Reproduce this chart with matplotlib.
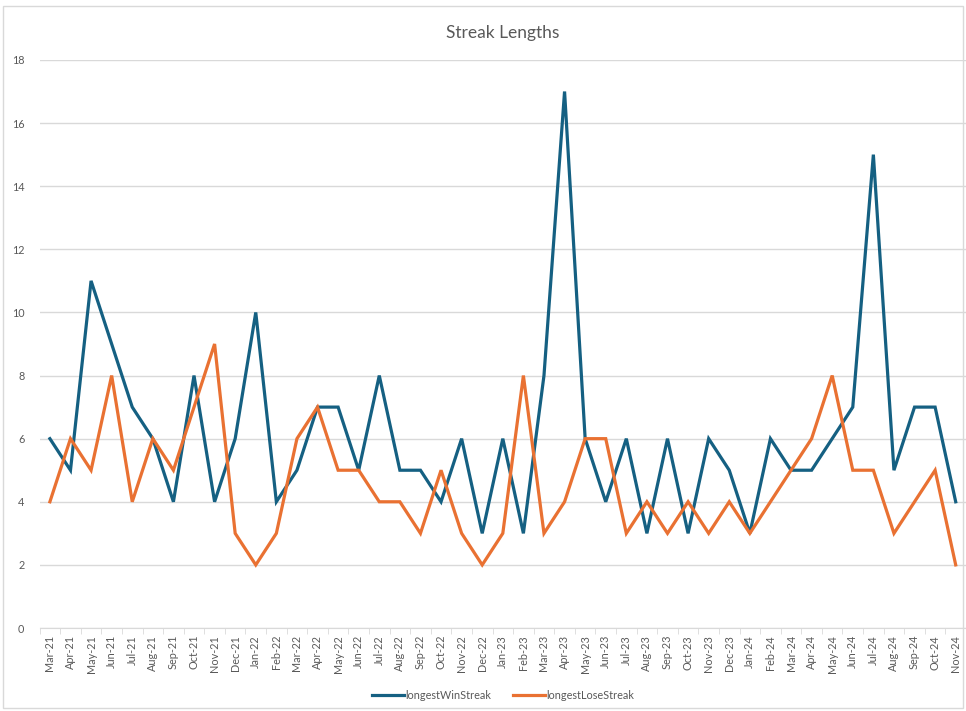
#!/usr/bin/python3

"""Streak lengths per month, win vs lose."""

import matplotlib.pyplot as plt
from matplotlib.patches import Rectangle

MONTHS = [
    'Mar-21', 'Apr-21', 'May-21', 'Jun-21', 'Jul-21', 'Aug-21', 'Sep-21', 'Oct-21',
    'Nov-21', 'Dec-21', 'Jan-22', 'Feb-22', 'Mar-22', 'Apr-22', 'May-22', 'Jun-22',
    'Jul-22', 'Aug-22', 'Sep-22', 'Oct-22', 'Nov-22', 'Dec-22', 'Jan-23', 'Feb-23',
    'Mar-23', 'Apr-23', 'May-23', 'Jun-23', 'Jul-23', 'Aug-23', 'Sep-23', 'Oct-23',
    'Nov-23', 'Dec-23', 'Jan-24', 'Feb-24', 'Mar-24', 'Apr-24', 'May-24', 'Jun-24',
    'Jul-24', 'Aug-24', 'Sep-24', 'Oct-24', 'Nov-24',
]

WIN_STREAK = [
    6, 5, 11, 9, 7, 6, 4, 8, 4, 6, 10, 4, 5, 7, 7, 5,
    8, 5, 5, 4, 6, 3, 6, 3, 8, 17, 6, 4, 6, 3, 6, 3,
    6, 5, 3, 6, 5, 5, 6, 7, 15, 5, 7, 7, 4,
]

LOSE_STREAK = [
    4, 6, 5, 8, 4, 6, 5, 7, 9, 3, 2, 3, 6, 7, 5, 5,
    4, 4, 3, 5, 3, 2, 3, 8, 3, 4, 6, 6, 3, 4, 3, 4,
    3, 4, 3, 4, 5, 6, 8, 5, 5, 3, 4, 5, 2,
]

WIN_COLOR = '#156082'
LOSE_COLOR = '#E97132'
TEXT_COLOR = '#595959'
GRID_COLOR = '#D9D9D9'


def main():
    plt.rcParams['font.family'] = ['Lato', 'DejaVu Sans']

    fig = plt.figure(figsize=(9.66, 7.11), dpi=100)
    ax = fig.add_axes([0.041, 0.1167, 0.959, 0.799])

    x = list(range(len(MONTHS)))
    ax.plot(x, WIN_STREAK, color=WIN_COLOR, linewidth=2.3, label='longestWinStreak',
            solid_joinstyle='miter', zorder=3)
    ax.plot(x, LOSE_STREAK, color=LOSE_COLOR, linewidth=2.3, label='longestLoseStreak',
            solid_joinstyle='miter', zorder=3)

    ax.set_xlim(-0.5, len(MONTHS) - 0.5)
    ax.set_ylim(0, 18)
    ax.set_yticks(range(0, 19, 2))
    ax.grid(axis='y', color=GRID_COLOR, linewidth=1)
    ax.set_axisbelow(True)

    ax.set_xticks(x)
    ax.set_xticklabels(MONTHS, rotation=90, fontsize=7.8, color=TEXT_COLOR)
    ax.set_xticks([i - 0.5 for i in range(len(MONTHS) + 1)], minor=True)
    ax.tick_params(axis='x', which='major', length=0, pad=5)
    ax.tick_params(axis='x', which='minor', length=4, color=GRID_COLOR)
    ax.tick_params(axis='y', length=0, labelsize=7.8, labelcolor=TEXT_COLOR, pad=11)

    for side in ['top', 'right', 'left']:
        ax.spines[side].set_visible(False)
    ax.spines['bottom'].set_color(GRID_COLOR)

    ax.set_title('Streak Lengths', fontsize=12.5, color=TEXT_COLOR, pad=16)

    ax.legend(loc='center', bbox_to_anchor=(0.5, -0.118), ncol=2, frameon=False,
              fontsize=7.8, labelcolor=TEXT_COLOR, handlelength=3,
              handletextpad=0.1, columnspacing=2)

    fig.patches.append(Rectangle((0.003, 0.004), 0.994, 0.987, transform=fig.transFigure,
                                 fill=False, edgecolor=GRID_COLOR, linewidth=1))

    fig.savefig('out.png', dpi=100)


if __name__ == '__main__':
    main()
